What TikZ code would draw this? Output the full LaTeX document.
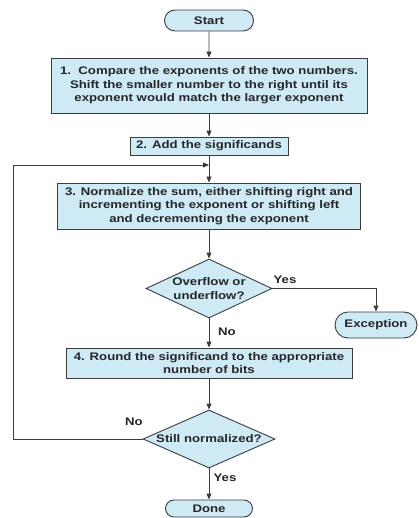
\documentclass[tikz,border=0pt]{standalone}
\usepackage{fontspec}
\setmainfont{Liberation Sans}[FakeStretch=1.2]
\usetikzlibrary{shapes.geometric,shapes.misc,arrows.meta}
\definecolor{boxfill}{RGB}{205,234,245}
\definecolor{edgec}{RGB}{60,60,60}
\begin{document}
\begin{tikzpicture}[x=1pt,y=-1pt,
  every node/.style={font=\fontsize{11}{13.5}\selectfont\bfseries, text=black!85},
  proc/.style={draw=edgec, fill=boxfill, line width=0.9pt, inner sep=0pt, align=center},
  term/.style={proc, rounded rectangle},
  dia/.style={draw=edgec, fill=boxfill, line width=0.9pt, diamond, inner sep=0pt},
  conn/.style={draw=edgec, line width=0.9pt},
  arr/.style={conn, -{Triangle[length=6pt,width=5pt]}},
  lbl/.style={inner sep=0pt}]
\useasboundingbox (0,0) rectangle (419,518);
\node[term, minimum width=89pt, minimum height=21pt] (start) at (209,20.5) {Start};
\node[proc, minimum width=316pt, minimum height=55pt] (b1) at (209,85.5) {1.\ \ Compare the exponents of the two numbers.\\Shift the smaller number to the right until its\\exponent would match the larger exponent};
\node[proc, minimum width=158pt, minimum height=18pt] (b2) at (209,146) {2. Add the significands};
\node[proc, minimum width=303pt, minimum height=46pt] (b3) at (209,206) {3. Normalize the sum, either shifting right and\\incrementing the exponent or shifting left\\and decrementing the exponent};
\node[dia, minimum width=126pt, minimum height=59pt] (d1) at (209,288.5) {};
\node[lbl, align=center] (d1t) at (d1.center) {Overflow or\\underflow?};
\node[term, minimum width=82pt, minimum height=26pt] (exc) at (376,325) {Exception};
\node[proc, minimum width=286pt, minimum height=30pt] (b4) at (209,363) {4. Round the significand to the appropriate\\number of bits};
\node[dia, minimum width=132pt, minimum height=58pt] (d2) at (209,439) {};
\node[lbl] (d2t) at (d2.center) {Still normalized?};
\node[term, minimum width=87pt, minimum height=17pt] (done) at (209,508.5) {Done};
\coordinate (j) at (209,165);
\coordinate (loopx) at (13,0);
\draw[arr] (start) -- (b1);
\draw[arr] (b1) -- (b2);
\draw[arr] (b2) -- (b3);
\draw[arr] (b3) -- (d1);
\draw[arr] (d1.east) -| (exc.north);
\draw[arr] (d1.south) -- (b4.north);
\draw[arr] (b4) -- (d2);
\draw[arr] (d2.south) -- (done.north);
\draw[arr] (d2.west) -- (d2.west -| loopx) |- (j);
\node[lbl] (yes1) at (285,280) {Yes};
\node[lbl] (no1) at (227,332) {No};
\node[lbl] (yes2) at (225,478) {Yes};
\node[lbl] (no2) at (134,422) {No};
\end{tikzpicture}
\end{document}
